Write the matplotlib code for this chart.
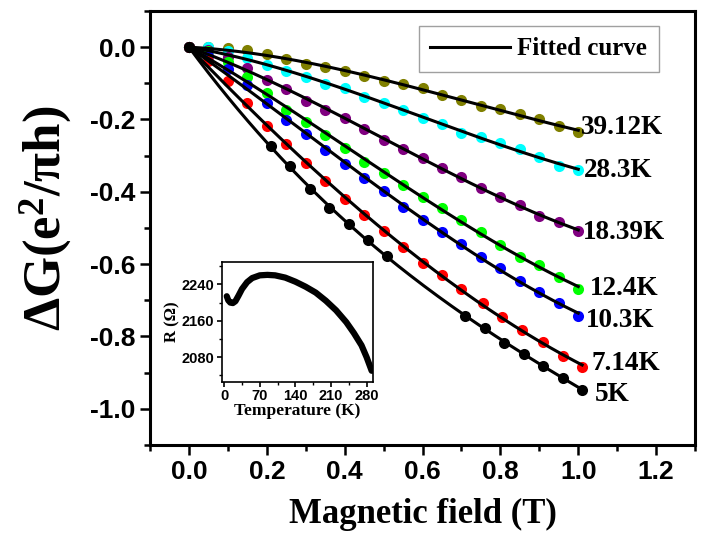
import numpy as np
import matplotlib
matplotlib.use('Agg')
import matplotlib.pyplot as plt
from matplotlib.ticker import MultipleLocator

# magnetoconductance data
B = [0.0, 0.05, 0.10, 0.15, 0.20, 0.25, 0.30, 0.35, 0.40, 0.45, 0.50,
     0.55, 0.60, 0.65, 0.70, 0.75, 0.80, 0.85, 0.90, 0.95, 1.00]
B_5K = [0.0, 0.21, 0.26, 0.31, 0.36, 0.41, 0.46, 0.51, 0.71, 0.76, 0.81, 0.86, 0.91, 0.96, 1.01]
G_5K = [0.0, -0.273, -0.328, -0.392, -0.445, -0.490, -0.534, -0.578,
        -0.744, -0.777, -0.817, -0.848, -0.881, -0.915, -0.947]
B_7K = [0.0, 0.05, 0.10, 0.15, 0.20, 0.25, 0.30, 0.35, 0.40, 0.45, 0.50,
        0.55, 0.60, 0.65, 0.70, 0.755, 0.805, 0.855, 0.91, 0.96, 1.01]
G_7K = [0.0, -0.037, -0.094, -0.154, -0.218, -0.269, -0.321, -0.371, -0.420, -0.463, -0.509,
        -0.552, -0.596, -0.631, -0.670, -0.707, -0.745, -0.782, -0.816, -0.854, -0.883]
G_10K = [0.0, -0.025, -0.060, -0.106, -0.154, -0.202, -0.241, -0.285, -0.322, -0.362, -0.399,
         -0.441, -0.478, -0.512, -0.544, -0.579, -0.612, -0.646, -0.677, -0.707, -0.744]
G_12K = [0.0, -0.012, -0.040, -0.082, -0.127, -0.174, -0.208, -0.243, -0.280, -0.317, -0.348,
         -0.380, -0.414, -0.446, -0.479, -0.512, -0.546, -0.580, -0.603, -0.635, -0.670]
G_18K = [0.0, -0.008, -0.026, -0.058, -0.090, -0.117, -0.148, -0.175, -0.197, -0.227, -0.258,
         -0.282, -0.307, -0.335, -0.358, -0.390, -0.413, -0.436, -0.466, -0.484, -0.509]
G_28K = [0.0, 0.0, -0.012, -0.030, -0.048, -0.067, -0.083, -0.102, -0.114, -0.138, -0.154,
         -0.175, -0.197, -0.213, -0.237, -0.248, -0.264, -0.282, -0.303, -0.328, -0.340]
G_39K = [0.0, 0.0, -0.003, -0.007, -0.019, -0.032, -0.047, -0.056, -0.067, -0.081, -0.094,
         -0.103, -0.114, -0.133, -0.145, -0.163, -0.172, -0.186, -0.200, -0.218, -0.234]

series = [(B, G_39K, '#808000'), (B, G_28K, '#00FFFF'), (B, G_18K, '#800080'),
          (B, G_12K, '#00FF00'), (B, G_10K, '#0000FF'), (B_7K, G_7K, '#FF0000'),
          (B_5K, G_5K, 'black')]

temp_labels = ['39.12K', '28.3K', '18.39K', '12.4K', '10.3K', '7.14K', '5K']
label_x = [1.008, 1.015, 1.013, 1.030, 1.020, 1.035, 1.042]
label_y = [-0.223, -0.342, -0.513, -0.667, -0.755, -0.874, -0.961]

# inset R(T)
T = [5, 8, 12, 17, 22, 28, 35, 45, 55, 70, 85, 100, 120, 140, 160,
     180, 200, 220, 240, 255, 270, 280, 290]
R = [2214, 2205, 2200, 2199, 2203, 2215, 2230, 2245, 2254, 2260, 2261, 2260, 2255, 2246, 2235,
     2222, 2204, 2183, 2157, 2133, 2106, 2080, 2050]

plt.rcParams['axes.unicode_minus'] = False
plt.rcParams['mathtext.fontset'] = 'custom'
plt.rcParams['mathtext.rm'] = 'Liberation Serif:bold'
plt.rcParams['mathtext.bf'] = 'Liberation Serif:bold'
plt.rcParams['mathtext.it'] = 'Liberation Serif:bold:italic'

fig = plt.figure(figsize=(7.08, 5.33), dpi=100)
ax = fig.add_axes([0.2119, 0.1651, 0.7698, 0.8143])

for x, y, c in series:
    x = np.array(x)
    y = np.array(y)
    ax.plot(x, y, 'o', color=c, ms=8, mec='none', zorder=2)
    # fitted curve through origin (cubic least squares)
    A = np.vstack([x, x**2, x**3]).T
    coef = np.linalg.lstsq(A, y, rcond=None)[0]
    xf = np.linspace(0, x[-1], 200)
    ax.plot(xf, coef[0]*xf + coef[1]*xf**2 + coef[2]*xf**3, 'k-', lw=2.2, zorder=3)

ax.plot([], [], 'k-', lw=2.2, label='Fitted curve')

for s, lx, ly in zip(temp_labels, label_x, label_y):
    ax.text(lx, ly, s, fontsize=19.5, fontweight='bold', family='Liberation Serif', va='center')

ax.set_xlim(-0.1, 1.3)
ax.set_ylim(-1.1, 0.1)
ax.xaxis.set_major_locator(MultipleLocator(0.2))
ax.xaxis.set_minor_locator(MultipleLocator(0.1))
ax.yaxis.set_major_locator(MultipleLocator(0.2))
ax.yaxis.set_minor_locator(MultipleLocator(0.1))
ax.xaxis.set_major_formatter(lambda v, p: '%.1f' % v)
ax.yaxis.set_major_formatter(lambda v, p: '%.1f' % v)
ax.tick_params(which='major', direction='out', length=7, width=1.8)
ax.tick_params(which='minor', direction='out', length=4, width=1.8)
for lab in ax.get_xticklabels() + ax.get_yticklabels():
    lab.set_fontfamily('Liberation Sans')
    lab.set_fontweight('bold')
    lab.set_fontsize(19)
for sp in ax.spines.values():
    sp.set_linewidth(2.2)

ax.set_xlabel('Magnetic field (T)', fontsize=25, fontweight='bold', family='Liberation Serif')
ax.set_ylabel('ΔG(e$^{\\mathbf{2}}$/πh)', fontsize=38, fontweight='bold', family='Liberation Serif')
ax.xaxis.set_label_coords(0.501, -0.122)
ax.yaxis.set_label_coords(-0.14, 0.523)

leg = ax.legend(loc='upper right', bbox_to_anchor=(0.933, 0.965), borderaxespad=0,
                prop={'family': 'Liberation Serif', 'weight': 'bold', 'size': 18},
                fancybox=False, handlelength=3.2, handletextpad=0.3, borderpad=0.45)
leg.get_frame().set_edgecolor('#888888')
leg.get_frame().set_linewidth(1.0)

# inset
ins = fig.add_axes([0.3131, 0.2839, 0.2133, 0.2251])
ins.plot(T, R, 'k-', lw=4.5, solid_capstyle='round')
ins.set_xlim(-5, 292)
ins.set_ylim(2026, 2290)
ins.set_xticks([0, 70, 140, 210, 280])
ins.xaxis.set_minor_locator(MultipleLocator(35))
ins.set_yticks([2080, 2160, 2240])
ins.yaxis.set_minor_locator(MultipleLocator(40))
ins.tick_params(which='major', direction='out', length=3.5, width=1.2, pad=2)
ins.tick_params(which='minor', direction='out', length=2, width=1.0)
for lab in ins.get_xticklabels() + ins.get_yticklabels():
    lab.set_fontfamily('Liberation Sans')
    lab.set_fontweight('bold')
    lab.set_fontsize(10.5)
for sp in ins.spines.values():
    sp.set_linewidth(1.2)
ins.set_xlabel('Temperature (K)', fontsize=12.5, fontweight='bold', family='Liberation Serif', labelpad=0)
ins.set_ylabel('R (Ω)', fontsize=12, fontweight='bold', family='Liberation Serif', labelpad=1)

fig.savefig('out.png', dpi=100)
